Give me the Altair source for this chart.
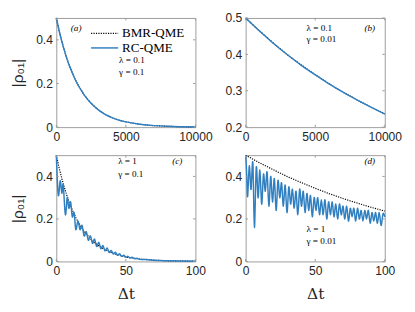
import altair as alt
import pandas as pd

# ---------------- data ----------------
# panel (a): lambda=0.1, gamma=0.1 (both curves coincide)
t_a = [0, 250, 500, 750, 1000, 1250, 1500, 2000, 2500, 3000, 3500, 4000,
       4500, 5000, 6000, 7000, 8000, 9000, 10000]
bmr_a = [0.5, 0.429, 0.369, 0.316, 0.272, 0.233, 0.200, 0.148, 0.109, 0.080,
         0.059, 0.044, 0.032, 0.024, 0.013, 0.007, 0.004, 0.002, 0.001]
rc_a = [0.5, 0.429, 0.369, 0.316, 0.272, 0.233, 0.200, 0.148, 0.109, 0.080,
        0.059, 0.044, 0.032, 0.024, 0.013, 0.007, 0.004, 0.002, 0.001]

# panel (b): lambda=0.1, gamma=0.01
t_b = [0, 1000, 2000, 3000, 4000, 5000, 6000, 7000, 8000, 9000, 10000]
bmr_b = [0.5, 0.464, 0.431, 0.399, 0.371, 0.344, 0.319, 0.296, 0.275, 0.255, 0.237]
rc_b = [0.5, 0.464, 0.430, 0.399, 0.370, 0.344, 0.319, 0.296, 0.275, 0.255, 0.236]

# panel (c): lambda=1, gamma=0.1
t_c_bmr = [0, 2, 4, 6, 8, 10, 12, 14, 16, 18, 20, 25, 30, 35, 40, 45, 50,
           60, 70, 80, 90, 100]
bmr_c = [0.5, 0.441, 0.389, 0.343, 0.302, 0.266, 0.235, 0.207, 0.182, 0.161,
         0.142, 0.103, 0.076, 0.055, 0.040, 0.029, 0.021, 0.011, 0.006, 0.003,
         0.002, 0.001]
t_c_rc = [0, 1.5, 2.8, 4.0, 5.0, 6.5, 7.8, 9.0, 10.3, 11.5, 12.8, 14.0, 15.5,
          17.0, 18.5, 20.0, 21.5, 23.0, 24.5, 26.0, 27.5, 29.0, 30.5, 32.0,
          33.5, 35.0, 36.5, 38.0, 39.5, 41.0, 42.5, 44.0, 45.5, 47.0, 48.5,
          50.0, 51.5, 53.0, 54.5, 56.0, 58.0, 60.0, 65.0, 70.0, 75.0, 80.0,
          90.0, 100.0]
rc_c = [0.50, 0.31, 0.38, 0.32, 0.36, 0.22, 0.30, 0.25, 0.28, 0.21, 0.23,
        0.15, 0.19, 0.15, 0.17, 0.12, 0.14, 0.10, 0.12, 0.085, 0.105, 0.07,
        0.09, 0.06, 0.075, 0.05, 0.063, 0.042, 0.052, 0.035, 0.043, 0.029,
        0.036, 0.024, 0.029, 0.020, 0.024, 0.016, 0.020, 0.013, 0.015, 0.010,
        0.009, 0.006, 0.004, 0.003, 0.002, 0.001]

# panel (d): lambda=1, gamma=0.01
t_d_bmr = [0, 10, 20, 30, 40, 50, 60, 70, 80, 90, 100]
bmr_d = [0.5, 0.464, 0.431, 0.399, 0.371, 0.344, 0.319, 0.296, 0.275, 0.255, 0.237]
t_d_rc = [0, 0.8, 1.5, 2.7, 3.9, 5.2, 6.3, 7.6, 8.9, 10.2, 11.5, 12.8, 14.1,
          15.4, 16.7, 18.0, 19.3, 20.6, 21.9, 23.2, 24.5, 25.8, 27.1, 28.4,
          29.7, 31.0, 32.3, 33.6, 34.9, 36.2, 37.5, 38.8, 40.1, 41.4, 42.7,
          44.0, 45.3, 46.6, 47.9, 49.2, 50.5, 51.8, 53.1, 54.4, 55.7, 57.0,
          58.3, 59.6, 60.9, 62.2, 63.5, 64.8, 66.1, 67.4, 68.7, 70.0, 71.3,
          72.6, 73.9, 75.2, 76.5, 77.8, 79.1, 80.4, 81.7, 83.0, 84.3, 85.6,
          86.9, 88.2, 89.5, 90.8, 92.1, 93.4, 94.7, 96.0, 97.3, 98.6, 100.0]
rc_d = [0.50, 0.40, 0.31, 0.45, 0.34, 0.46, 0.16, 0.44, 0.30, 0.43, 0.27,
        0.41, 0.33, 0.42, 0.26, 0.40, 0.28, 0.39, 0.24, 0.38, 0.30, 0.37,
        0.26, 0.36, 0.23, 0.35, 0.27, 0.34, 0.25, 0.33, 0.22, 0.34, 0.26,
        0.33, 0.23, 0.32, 0.24, 0.31, 0.21, 0.30, 0.24, 0.30, 0.22, 0.29,
        0.22, 0.29, 0.20, 0.28, 0.22, 0.28, 0.21, 0.27, 0.20, 0.27, 0.22,
        0.26, 0.20, 0.26, 0.19, 0.25, 0.21, 0.25, 0.19, 0.25, 0.20, 0.24,
        0.19, 0.24, 0.20, 0.24, 0.18, 0.23, 0.19, 0.23, 0.18, 0.23, 0.17,
        0.22, 0.21]

# axis ticks
xticks_long = [0, 5000, 10000]
xticks_short = [0, 50, 100]
yticks_a = [0, 0.2, 0.4]
yticks_b = [0.2, 0.3, 0.4, 0.5]

# legend entries
legend_names = ["BMR-QME", "RC-QME"]

BLUE = "#2f7fc1"
FRAME = "#9a9a9a"
TXT = "#262626"
W = 144


def panel(tb, vb, tr, vr, xdom, xt, ydom, yt, h, ytitle, xtitle, texts,
          legend=False):
    xs = alt.Scale(domain=xdom, nice=False, zero=False)
    ys = alt.Scale(domain=ydom, nice=False, zero=False)
    xax = alt.Axis(values=xt, format="d", domain=False, ticks=False, grid=False,
                   labelFlush=False, labelOverlap=False, labelPadding=4,
                   title=xtitle, titleFont="DejaVu Serif", titleFontSize=16,
                   titleFontWeight="normal", titlePadding=9, titleColor=TXT)
    yax = alt.Axis(values=yt, format="~g", domain=False, ticks=False, grid=False,
                   labelOverlap=False, labelFlush=False,
                   labelPadding=4, minExtent=22, maxExtent=22, title=ytitle,
                   titleFont="Liberation Sans", titleFontSize=16,
                   titleFontWeight="normal", titlePadding=10, titleColor=TXT)
    X = lambda f: alt.X(f, scale=xs, axis=xax)
    Y = lambda f: alt.Y(f, scale=ys, axis=yax)
    dfb = pd.DataFrame({"t": tb, "v": vb})
    dfr = pd.DataFrame({"t": tr, "v": vr})
    black = alt.Chart(dfb).mark_line(color="black", strokeWidth=1.2,
                                     strokeDash=[1.2, 1.3]).encode(
        x=X("t:Q"), y=Y("v:Q"))
    blue = alt.Chart(dfr).mark_line(color=BLUE, strokeWidth=1.5,
                                    interpolate="natural").encode(
        x=X("t:Q"), y=Y("v:Q"))
    layers = [black, blue]
    # inward ticks on all four sides
    dyt = pd.DataFrame({"v": yt})
    dxt = pd.DataFrame({"t": xt})
    layers.append(alt.Chart(dyt).mark_rule(color=FRAME).encode(
        y=Y("v:Q"), x=alt.value(0), x2=alt.value(2.5)))
    layers.append(alt.Chart(dyt).mark_rule(color=FRAME).encode(
        y=Y("v:Q"), x=alt.value(W - 2.5), x2=alt.value(W)))
    layers.append(alt.Chart(dxt).mark_rule(color=FRAME).encode(
        x=X("t:Q"), y=alt.value(h - 2.5), y2=alt.value(h)))
    layers.append(alt.Chart(dxt).mark_rule(color=FRAME).encode(
        x=X("t:Q"), y=alt.value(0), y2=alt.value(2.5)))
    if legend:
        layers.append(alt.Chart(pd.DataFrame({"k": [legend_names[0]]})).mark_rule(
            color="black", strokeWidth=1.2, strokeDash=[1.2, 1.3]).encode(
            x=alt.value(36), x2=alt.value(64), y=alt.value(16)))
        layers.append(alt.Chart(pd.DataFrame({"k": [legend_names[1]]})).mark_rule(
            color=BLUE, strokeWidth=1.5).encode(
            x=alt.value(36), x2=alt.value(64), y=alt.value(31)))
    for (s, px, py, size, style) in texts:
        layers.append(alt.Chart(pd.DataFrame({"s": [s]})).mark_text(
            align="left", baseline="middle", font="Liberation Serif",
            fontSize=size, fontStyle=style, color="black").encode(
            x=alt.value(px), y=alt.value(py), text="s:N"))
    return alt.layer(*layers).properties(width=W, height=h)


pa = panel(t_a, bmr_a, t_a, rc_a, [0, 10000], xticks_long, [0, 0.5], yticks_a,
           113, "|ρ₀₁|", None,
           [("(a)", 15, 10, 9.5, "italic"),
            (legend_names[0], 68, 16, 13.5, "normal"),
            (legend_names[1], 68, 31, 13.5, "normal"),
            ("λ = 0.1", 65, 44, 9.5, "normal"),
            ("γ = 0.1", 65, 56, 9.5, "normal")], legend=True)

pb = panel(t_b, bmr_b, t_b, rc_b, [0, 10000], xticks_long, [0.2, 0.5], yticks_b,
           113, None, None,
           [("(b)", 123, 10, 9.5, "italic"),
            ("λ = 0.1", 63, 10, 9.5, "normal"),
            ("γ = 0.01", 63, 22, 9.5, "normal")])

pc = panel(t_c_bmr, bmr_c, t_c_rc, rc_c, [0, 100], xticks_short, [0, 0.5],
           yticks_a, 110, "|ρ₀₁|", "Δt",
           [("(c)", 120, 6, 9.5, "italic"),
            ("λ = 1", 64, 6, 9.5, "normal"),
            ("γ = 0.1", 64, 20, 9.5, "normal")])

pd_ = panel(t_d_bmr, bmr_d, t_d_rc, rc_d, [0, 100], xticks_short, [0, 0.5],
            yticks_a, 110, None, "Δt",
            [("(d)", 123, 6, 9.5, "italic"),
             ("λ = 1", 63, 77, 9.5, "normal"),
             ("γ = 0.01", 63, 89, 9.5, "normal")])

chart = alt.concat(pa, pb, pc, pd_, columns=2,
                   spacing={"row": 29, "column": 52}, bounds="flush").configure(
    background="white",
    padding={"left": 1, "top": -2, "right": 5, "bottom": 5},
).configure_view(stroke=FRAME, strokeWidth=1).configure_axis(
    labelFont="Liberation Sans", labelFontSize=12.5, labelColor=TXT)

chart.save("out.html", embed_options={"renderer": "svg", "actions": False})
